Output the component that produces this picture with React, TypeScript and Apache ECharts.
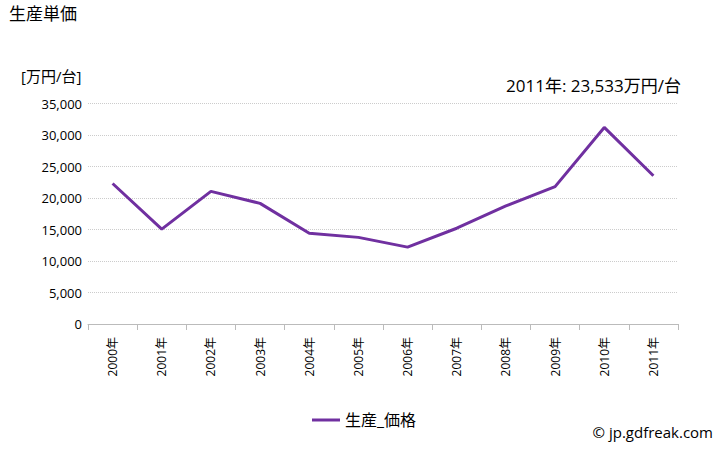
import React, { useEffect, useRef } from "react";
import * as echarts from "echarts";

const categories = ["2000年","2001年","2002年","2003年","2004年","2005年","2006年","2007年","2008年","2009年","2010年","2011年"];
const priceValues = [22300, 15050, 21050, 19150, 14400, 13750, 12200, 15200, 18750, 21800, 31200, 23533];
const yTicks = { min: 0, max: 35000, interval: 5000 };
const seriesName = "生産_価格";
const titleText = "生産単価";
const unitText = "[万円/台]";
const noteText = "2011年: 23,533万円/台";
const creditText = "© jp.gdfreak.com";

const FONT = "'Open Sans', 'Noto Sans CJK JP', sans-serif";

export default function App() {
  const ref = useRef<HTMLDivElement>(null);
  useEffect(() => {
    const chart = echarts.init(ref.current!, null, { renderer: "svg" });
    chart.setOption({
      animation: false,
      textStyle: { fontFamily: FONT },
      grid: { left: 88, right: 50, top: 103.5, bottom: 126 },
      graphic: [
        { type: "text", left: 9, top: 5, style: { text: titleText, font: `17px ${FONT}`, fill: "#000" } },
        { type: "text", left: 21, top: 68, style: { text: unitText, font: `15px ${FONT}`, fill: "#000" } },
        { type: "text", right: 47, top: 77, style: { text: noteText, font: `17px ${FONT}`, fill: "#000" } },
        { type: "text", right: 15, top: 424, style: { text: creditText, font: `15px ${FONT}`, fill: "#000" } },
      ],
      legend: {
        top: 407,
        left: "center",
        itemWidth: 28,
        itemHeight: 3,
        itemGap: 4,
        icon: "rect",
        textStyle: { fontFamily: FONT, fontSize: 16, color: "#000" },
        data: [seriesName],
      },
      xAxis: {
        type: "category",
        data: categories,
        boundaryGap: true,
        axisLine: { lineStyle: { color: "#bbb" } },
        axisTick: { show: true, length: 6, lineStyle: { color: "#bbb" } },
        axisLabel: { rotate: 90, fontSize: 12, color: "#000", fontFamily: FONT, margin: 13 },
      },
      yAxis: {
        type: "value",
        min: yTicks.min,
        max: yTicks.max,
        interval: yTicks.interval,
        axisLine: { show: false },
        axisTick: { show: false },
        axisLabel: {
          fontSize: 13,
          color: "#000",
          fontFamily: FONT,
          margin: 6,
          formatter: (v: number) => v.toLocaleString("en-US"),
        },
        splitLine: { lineStyle: { color: "#ccc", type: "dotted" } },
      },
      series: [
        {
          name: seriesName,
          type: "line",
          data: priceValues,
          symbol: "none",
          lineStyle: { color: "#7030a0", width: 3 },
          itemStyle: { color: "#7030a0" },
        },
      ],
    });
    return () => chart.dispose();
  }, []);
  return <div ref={ref} style={{ position: "absolute", left: 0, top: 0, width: 728, height: 450 }} />;
}
